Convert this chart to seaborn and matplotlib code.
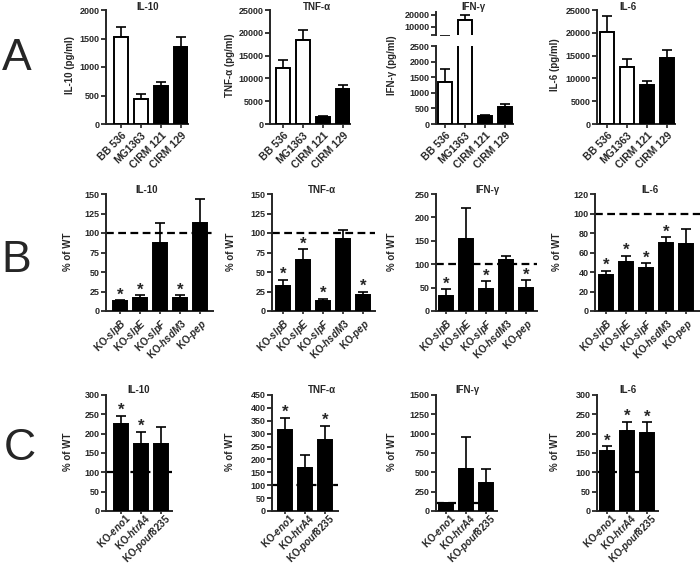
import numpy as np
import pandas as pd
import matplotlib
matplotlib.use("Agg")
import matplotlib.pyplot as plt
import matplotlib.transforms as mtransforms
import seaborn as sns

sns.set_style("ticks")
plt.rcParams['font.family'] = ['Liberation Sans', 'DejaVu Sans']
plt.rcParams['mathtext.fontset'] = 'custom'
plt.rcParams['mathtext.rm'] = 'Liberation Sans:bold'
plt.rcParams['mathtext.it'] = 'Liberation Sans:italic:bold'
plt.rcParams['mathtext.bf'] = 'Liberation Sans:bold'

# ---------------- data ----------------
cytokines = ["IL-10", "TNF-α", "IFN-γ", "IL-6"]

# Panel A: strains (pg/ml)
strains = ["BB 536", "MG1363", "CIRM 121", "CIRM 129"]
strain_colors = ["white", "white", "black", "black"]
a_il10 = [1530, 440, 670, 1350]
a_il10_err = [170, 80, 70, 170]
a_tnf = [12200, 18500, 1500, 7700]
a_tnf_err = [1800, 2200, 200, 900]
a_ifn = [1360, 15700, 266, 543]
a_ifn_err = [395, 4300, 15, 106]
a_il6 = [20200, 12500, 8500, 14500]
a_il6_err = [3500, 1800, 900, 1700]

# Panel B: knock-outs (% of WT)
b_genes = ["slpB", "slpE", "slpF", "hsdM3", "pep"]
b_il10 = [13, 17, 87, 17, 113]
b_il10_err = [1, 3.5, 25.5, 3, 30.5]
b_il10_sig = [1, 1, 0, 1, 0]
b_tnf = [32, 65.5, 13, 92, 20.5]
b_tnf_err = [8, 13.5, 3, 12, 4.5]
b_tnf_sig = [1, 1, 1, 0, 1]
b_ifn = [31, 153.5, 46, 109, 50]
b_ifn_err = [15, 66.5, 18, 9, 16]
b_ifn_sig = [1, 0, 1, 0, 1]
b_il6 = [37, 50, 44, 69.5, 68.5]
b_il6_err = [4.5, 6.5, 5, 6, 15.5]
b_il6_sig = [1, 1, 1, 1, 0]

# Panel C: knock-outs (% of WT)
c_genes = ["eno1", "htrA4", "pouf8235"]
c_il10 = [225, 173, 173]
c_il10_err = [21, 32, 45]
c_il10_sig = [1, 1, 0]
c_tnf = [314, 165, 275]
c_tnf_err = [48, 52, 55]
c_tnf_sig = [1, 0, 1]
c_ifn = [108, 539, 358]
c_ifn_err = [0, 422, 185]
c_ifn_sig = [0, 0, 0]
c_il6 = [155, 207, 201]
c_il6_err = [13, 24, 28]
c_il6_sig = [1, 1, 1]

# ---------------- helpers ----------------
W, H = 700, 567
fig = plt.figure(figsize=(7, 5.67), dpi=100)
fig.patch.set_facecolor("white")


def add_ax(left, right, top, bottom):
    return fig.add_axes([left / W, 1 - bottom / H, (right - left) / W, (bottom - top) / H])


def draw_bars(ax, cats, vals, errs, colors):
    n = len(cats)
    df = pd.DataFrame({"cat": cats, "val": vals})
    sns.barplot(data=df, x="cat", y="val", hue="cat",
                palette=dict(zip(cats, colors)), edgecolor="black",
                linewidth=1.4, width=0.72, legend=False, errorbar=None,
                ax=ax, zorder=3)
    ax.errorbar(np.arange(n), vals, yerr=[np.zeros(n), errs], fmt="none",
                ecolor="black", elinewidth=1.2, capsize=3.3, capthick=1.2,
                zorder=2)
    ax.set_xlabel("")
    ax.set_ylabel("")


def style(ax, lo, hi, step, xtick_len=3, xpad=1.5):
    for s in ["top", "right"]:
        ax.spines[s].set_visible(False)
    for s in ["left", "bottom"]:
        ax.spines[s].set_linewidth(1.4)
    ax.set_ylim(lo, hi)
    ax.set_yticks(np.arange(lo, hi + step / 2, step))
    ax.tick_params(axis="y", direction="out", length=3.5, width=1.3,
                   labelsize=6.5, pad=1.2)
    ax.tick_params(axis="x", direction="out", length=xtick_len,
                   width=1.2, pad=xpad)
    for lab in ax.get_yticklabels():
        lab.set_fontweight("bold")


def set_xlabels(ax, labels, size, shift=None):
    ax.set_xticks(range(len(labels)))
    ax.set_xticklabels(labels, rotation=45, ha="right", rotation_mode="anchor",
                       fontsize=size, fontweight="bold")
    if shift is not None:
        off = mtransforms.ScaledTranslation(shift[0] / 72, shift[1] / 72,
                                            fig.dpi_scale_trans)
        for lab in ax.get_xticklabels():
            lab.set_transform(lab.get_transform() + off)


def stars(ax, vals, errs, sig):
    for i, (v, e, s) in enumerate(zip(vals, errs, sig)):
        if s:
            ax.annotate("*", xy=(i, v + e), xytext=(0, 0.5),
                        textcoords="offset points", ha="center",
                        va="baseline", fontsize=12, fontweight="bold",
                        annotation_clip=False)


def title_and_ylabel(text, tx, ty, label, lx, ly):
    fig.text(tx / W, 1 - ty / H, text, ha="center", va="center",
             fontsize=7, fontweight="bold")
    fig.text(lx / W, 1 - ly / H, label, ha="center", va="center",
             rotation=90, fontsize=7, fontweight="bold")


# ---------------- Panel A ----------------
A_top, A_bot = 10, 124
A_geo = [(106, 121, 188, 148, 70), (270, 283, 350, 317, 230),
         (436, 445, 513, 473, 392), (597, 607, 675, 628, 555)]
A_data = [(a_il10, a_il10_err, 2000, 500), (a_tnf, a_tnf_err, 25000, 5000),
          (a_ifn, a_ifn_err, 2500, 500), (a_il6, a_il6_err, 25000, 5000)]

for k, ((left, c0, right, tc, lx), (vals, errs, ymax, step)) in enumerate(zip(A_geo, A_data)):
    xl = ((left - c0) / 20, (right - c0) / 20)
    if k == 2:
        ax = add_ax(left, right, 46, A_bot)
    else:
        ax = add_ax(left, right, A_top, A_bot)
    draw_bars(ax, strains, vals, errs, strain_colors)
    style(ax, 0, ymax, step)
    ax.set_xlim(*xl)
    set_xlabels(ax, strains, 7.5)
    title_and_ylabel(cytokines[k], tc, 7, cytokines[k] + " (pg/ml)", lx, 65)
    if k == 2:
        axt = add_ax(left, right, 12, 35)
        draw_bars(axt, strains, vals, errs, strain_colors)
        for s in ["top", "right", "bottom"]:
            axt.spines[s].set_visible(False)
        axt.spines["left"].set_linewidth(1.4)
        axt.set_ylim(2800, 22500)
        axt.set_yticks([2800, 10000, 20000])
        axt.set_yticklabels(["", "10000", "20000"], fontweight="bold")
        axt.tick_params(axis="y", direction="out", length=3.5, width=1.3,
                        labelsize=6.5, pad=1.2)
        axt.set_xticks([])
        axt.set_xlim(*xl)

fig.text(17 / W, 1 - 59 / H, "A", fontsize=32, ha="center", va="center")

# ---------------- Panels B and C ----------------
B_geo = [(106, 120, 213, 147, 68), (272, 283, 375, 322, 231),
         (436, 446, 537, 487, 392), (595, 606, 700, 650, 557)]
B_data = [(b_il10, b_il10_err, b_il10_sig, 150, 25),
          (b_tnf, b_tnf_err, b_tnf_sig, 150, 25),
          (b_ifn, b_ifn_err, b_ifn_sig, 250, 50),
          (b_il6, b_il6_err, b_il6_sig, 120, 20)]
C_geo = [(106, 121, 172, 139, 68), (272, 285, 338, 322, 230),
         (436, 446, 497, 467, 392), (597, 607, 658, 628, 555)]
C_data = [(c_il10, c_il10_err, c_il10_sig, 300, 50),
          (c_tnf, c_tnf_err, c_tnf_sig, 450, 50),
          (c_ifn, c_ifn_err, c_ifn_sig, 1500, 250),
          (c_il6, c_il6_err, c_il6_sig, 300, 50)]

for genes, geo, data, (top, bot), ty, ly, xpad, shift in [
        (b_genes, B_geo, B_data, (194, 311), 190, 252, 1.5, None),
        (c_genes, C_geo, C_data, (395, 511), 390, 452, 0.2, (2.5, 2.2))]:
    cats = ["KO-" + g for g in genes]
    labels = ["KO-$\\mathit{" + g + "}$" for g in genes]
    colors = ["black"] * len(genes)
    for k, ((left, c0, right, tc, lx), (vals, errs, sig, ymax, step)) in enumerate(zip(geo, data)):
        ax = add_ax(left, right, top, bot)
        ax.axhline(100, color="black", lw=1.6, ls=(0, (3.5, 2)), zorder=1,
                   clip_on=False)
        draw_bars(ax, cats, vals, errs, colors)
        style(ax, 0, ymax, step, xtick_len=2.5, xpad=xpad)
        ax.set_xlim((left - c0) / 20, (right - c0) / 20)
        set_xlabels(ax, labels, 7, shift)
        stars(ax, vals, errs, sig)
        title_and_ylabel(cytokines[k], tc, ty, "% of WT", lx, ly)

fig.text(16 / W, 1 - 261 / H, "B", fontsize=32, ha="center", va="center")
fig.text(20 / W, 1 - 448 / H, "C", fontsize=32, ha="center", va="center")

fig.savefig("out.png", dpi=100, facecolor="white")
